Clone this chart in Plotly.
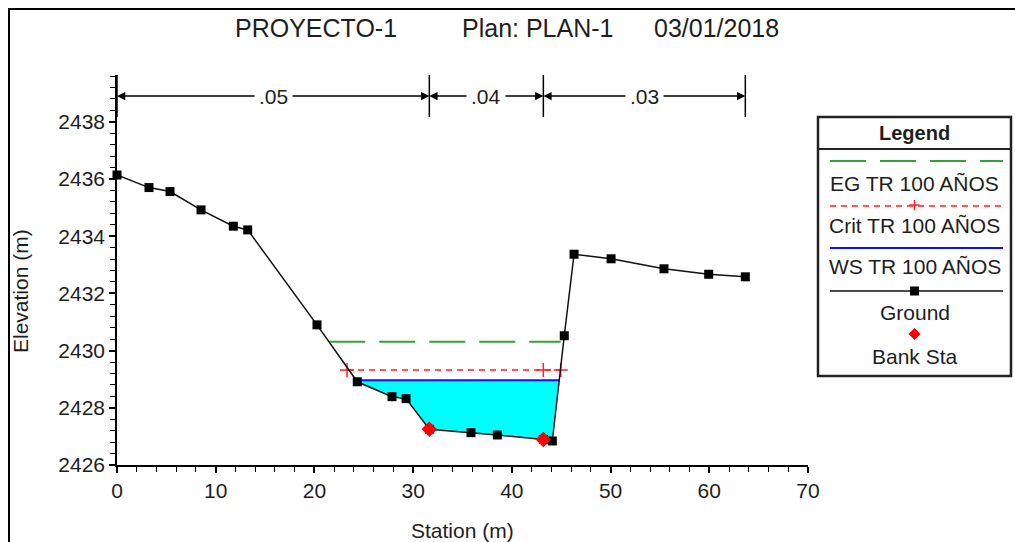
import plotly.graph_objects as go

# ---------------- data ----------------
station = [0, 3.24, 5.37, 8.51, 11.78, 13.24, 20.26, 24.34, 27.86, 29.28, 31.64,
           35.86, 38.53, 43.19, 44.10, 45.31, 46.30, 50.05, 55.41, 59.94, 63.65]
elevation = [2436.14, 2435.70, 2435.56, 2434.92, 2434.35, 2434.22, 2430.90, 2428.91,
             2428.39, 2428.32, 2427.25, 2427.13, 2427.05, 2426.89, 2426.84, 2430.52,
             2433.37, 2433.21, 2432.86, 2432.67, 2432.58]
bank_station = [31.64, 43.19]
bank_elev = [2427.25, 2426.89]
eg_station = [21.5, 44.95]
eg_elev = 2430.31
crit_station = [23.3, 43.19, 44.95]
crit_elev = 2429.32
ws_station = [24.3, 44.85]
ws_elev = 2428.96
n_breaks = [0, 31.64, 43.19, 63.65]
n_values = [".05", ".04", ".03"]
legend_names = ["EG TR 100 AÑOS", "Crit TR 100 AÑOS", "WS TR 100 AÑOS", "Ground", "Bank Sta"]
title_parts = ["PROYECTO-1", "Plan: PLAN-1", "03/01/2018"]

# ---------------- geometry helpers (pixel -> paper) ----------------
W, H = 1015, 542
L, R, T, B = 117, 808, 75, 465
PX_PER_M = 28.6
def px(x):
    return (x - L) / (R - L)
def py(y):
    return (B - y) / (B - T)
def ydat(y):
    return 2426 + (B - y) / PX_PER_M

FONT = "Arial, Liberation Sans, sans-serif"
TXT = "#1e1e1e"

fig = go.Figure()

# water fill
fx = [ws_station[0]] + [s for s in station if ws_station[0] < s < ws_station[1]] + [ws_station[1]]
fy = [ws_elev] + [e for s, e in zip(station, elevation) if ws_station[0] < s < ws_station[1]] + [ws_elev]
fig.add_trace(go.Scatter(x=fx, y=fy, fill="toself", fillcolor="#00ffff",
                         line=dict(width=0), mode="lines", hoverinfo="skip"))
# WS
fig.add_trace(go.Scatter(x=ws_station, y=[ws_elev] * len(ws_station), mode="lines",
                         line=dict(color="#1010ff", width=2), name=legend_names[2]))
# EG
fig.add_trace(go.Scatter(x=eg_station, y=[eg_elev] * len(eg_station), mode="lines",
                         line=dict(color="#38a038", width=2, dash="36px,14px"), name=legend_names[0]))
# Crit
fig.add_trace(go.Scatter(x=crit_station, y=[crit_elev] * len(crit_station), mode="lines+markers",
                         line=dict(color="#ff2020", width=1.5, dash="6px,5px"),
                         marker=dict(symbol="cross-thin", size=10, line=dict(color="#ff2020", width=1.5)),
                         name=legend_names[1]))
# Ground
fig.add_trace(go.Scatter(x=station, y=elevation, mode="lines+markers",
                         line=dict(color="#111111", width=1.5),
                         marker=dict(symbol="square", size=9, color="black"),
                         cliponaxis=False, name=legend_names[3]))
# Bank
fig.add_trace(go.Scatter(x=bank_station, y=bank_elev, mode="markers",
                         marker=dict(symbol="diamond", size=12, color="#ff0000"),
                         cliponaxis=False, name=legend_names[4]))

shapes = []
annotations = []

def text_ann(x, y, text, size, xref="paper", yref="paper", **kw):
    d = dict(x=x, y=y, xref=xref, yref=yref, text=text, showarrow=False,
             xanchor="center", yanchor="middle",
             font=dict(family=FONT, size=size, color=TXT))
    d.update(kw)
    return d

# Manning's n ruler
ruler_y = ydat(96)
for b in n_breaks:
    shapes.append(dict(type="line", xref="x", yref="paper", x0=b, x1=b,
                       y0=py(75), y1=py(117), line=dict(color="black", width=1.5)))
for i, nv in enumerate(n_values):
    a, b = n_breaks[i], n_breaks[i + 1]
    mid = (a + b) / 2
    for end in (a, b):
        annotations.append(dict(x=end, y=ruler_y, xref="x", yref="y",
                                ax=mid, ay=ruler_y, axref="x", ayref="y",
                                text="", showarrow=True, arrowhead=2, arrowsize=1.1,
                                arrowwidth=1.5, arrowcolor="black"))
for i, nv in enumerate(n_values):
    mid = (n_breaks[i] + n_breaks[i + 1]) / 2
    annotations.append(text_ann(mid, ruler_y, nv, 21, xref="x", yref="y",
                                bgcolor="white", borderpad=4))

# title
for part, cx in zip(title_parts, [316, 537, 716]):
    annotations.append(text_ann(px(cx), py(28), part, 25))

# axis titles
annotations.append(text_ann(px(20), py(291), "Elevation (m)", 21, textangle=-90))
annotations.append(text_ann(px(462), py(530), "Station (m)", 21))

# outer border (left and top)
shapes.append(dict(type="line", xref="paper", yref="paper", x0=px(9), x1=px(9),
                   y0=py(9), y1=py(545), line=dict(color="black", width=2)))
shapes.append(dict(type="line", xref="paper", yref="paper", x0=px(8), x1=px(1016),
                   y0=py(9), y1=py(9), line=dict(color="black", width=2)))

# custom legend
lx0, lx1, ly0, ly1 = 818, 1011, 117, 376
lcx = (lx0 + lx1) / 2
shapes.append(dict(type="rect", xref="paper", yref="paper", x0=px(lx0), x1=px(lx1),
                   y0=py(ly0), y1=py(ly1), line=dict(color="#222222", width=2.5),
                   fillcolor="white", layer="below"))
shapes.append(dict(type="line", xref="paper", yref="paper", x0=px(lx0), x1=px(lx1),
                   y0=py(149), y1=py(149), line=dict(color="#222222", width=2)))
annotations.append(text_ann(px(lcx), py(133), "<b>Legend</b>", 20))
sx0, sx1 = 830, 1003
# EG symbol
shapes.append(dict(type="line", xref="paper", yref="paper", x0=px(sx0), x1=px(sx1),
                   y0=py(161), y1=py(161), line=dict(color="#38a038", width=2, dash="36px,14px")))
# Crit symbol
shapes.append(dict(type="line", xref="paper", yref="paper", x0=px(sx0), x1=px(sx1),
                   y0=py(206), y1=py(206), line=dict(color="#ff2020", width=1.5, dash="6px,5px")))
shapes.append(dict(type="line", xref="paper", yref="paper", x0=px(lcx - 5), x1=px(lcx + 5),
                   y0=py(205), y1=py(205), line=dict(color="#ff2020", width=1.5)))
shapes.append(dict(type="line", xref="paper", yref="paper", x0=px(lcx), x1=px(lcx),
                   y0=py(200), y1=py(210), line=dict(color="#ff2020", width=1.5)))
# WS symbol
shapes.append(dict(type="line", xref="paper", yref="paper", x0=px(sx0), x1=px(sx1),
                   y0=py(248), y1=py(248), line=dict(color="#1010ff", width=2)))
# Ground symbol
shapes.append(dict(type="line", xref="paper", yref="paper", x0=px(sx0), x1=px(sx1),
                   y0=py(291), y1=py(291), line=dict(color="#111111", width=1.5)))
shapes.append(dict(type="rect", xref="paper", yref="paper", x0=px(lcx - 4.5), x1=px(lcx + 4.5),
                   y0=py(286.5), y1=py(295.5), line=dict(color="black", width=0), fillcolor="black"))
# Bank symbol (diamond)
dcx, dcy = px(lcx), py(334)
dx, dy = 6 / (R - L), 6 / (B - T)
shapes.append(dict(type="path", xref="paper", yref="paper",
                   path=f"M {dcx - dx} {dcy} L {dcx} {dcy + dy} L {dcx + dx} {dcy} L {dcx} {dcy - dy} Z",
                   fillcolor="#ff0000", line=dict(color="#ff0000", width=0)))
for name, ty in zip(legend_names, [183, 226, 266, 312, 356]):
    annotations.append(text_ann(px(lcx), py(ty), name, 21))

fig.update_layout(
    width=W, height=H,
    margin=dict(l=L, r=W - R, t=T, b=H - B, pad=0),
    plot_bgcolor="white", paper_bgcolor="white",
    showlegend=False,
    shapes=shapes, annotations=annotations,
    xaxis=dict(range=[0, 70], tick0=0, dtick=10, ticks="outside", ticklen=6, tickwidth=1.5,
               tickcolor="black", showline=True, linecolor="black", linewidth=1.5,
               showgrid=False, zeroline=False,
               minor=dict(dtick=2, ticks="outside", ticklen=5, tickwidth=1.2, tickcolor="black"),
               tickfont=dict(family=FONT, size=21, color=TXT)),
    yaxis=dict(range=[2426, ydat(T)], tick0=2426, dtick=2, ticks="outside",
               ticklen=6, tickwidth=1.5, tickcolor="black", showline=True, linecolor="black",
               linewidth=1.5, showgrid=False, zeroline=False,
               minor=dict(dtick=0.4, ticks="outside", ticklen=5, tickwidth=1.2, tickcolor="black"),
               tickfont=dict(family=FONT, size=21, color=TXT)),
)

fig.write_html("out.html", config={"displayModeBar": False},
               post_script="document.body.style.margin='0px';")
